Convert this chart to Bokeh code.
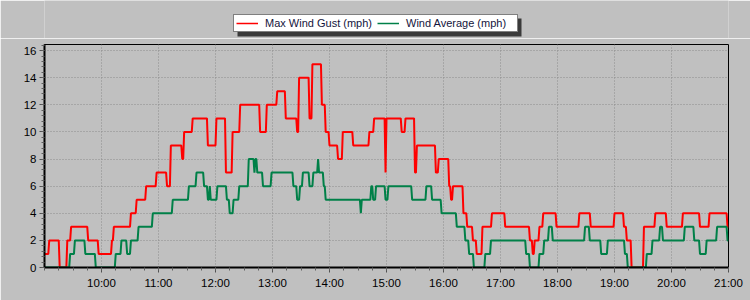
import pandas as pd
from bokeh.plotting import figure
from bokeh.layouts import column
from bokeh.models import (FixedTicker, DatetimeTickFormatter, Legend, LegendItem,
                          Range1d, BoxAnnotation)
from bokeh.embed import file_html
from bokeh.resources import INLINE

DAY = "2024-01-01 "
START, END = "9:00", "21:00"

# Max wind gust (mph): time each new level begins, and the level
gust_times = ["9:00", "9:05", "9:16", "9:24", "9:28", "9:46", "9:57", "10:11", "10:13",
              "10:31", "10:37", "10:47", "10:58", "11:09", "11:13", "11:25", "11:27",
              "11:36", "11:52", "12:01", "12:11", "12:18", "12:26", "12:47", "12:54",
              "13:05", "13:14", "13:26", "13:28", "13:39", "13:42", "13:52", "13:56",
              "14:00", "14:09", "14:14", "14:25", "14:42", "14:47", "14:59", "15:00",
              "15:16", "15:20", "15:30", "15:32", "15:52", "15:55", "16:06", "16:08",
              "16:10", "16:21", "16:25", "16:31", "16:35", "16:41", "16:51", "17:05",
              "17:31", "17:34", "17:36", "17:41", "17:45", "17:59", "18:23", "18:35",
              "19:00", "19:10", "19:13", "19:18", "19:31", "19:43", "19:55", "20:12",
              "20:30", "20:40", "20:59"]
gust_values = [1, 2, 0, 2, 3, 2, 1, 2, 3,
               4, 5, 6, 7, 6, 9, 8, 10,
               11, 9, 11, 7, 10, 12, 10, 12,
               13, 11, 10, 14, 11, 15, 12, 10,
               9, 8, 10, 9, 10, 11, 7, 11,
               10, 11, 7, 9, 7, 8, 6, 5,
               6, 4, 3, 2, 1, 3, 4, 3,
               2, 1, 2, 3, 4, 3, 4, 3,
               4, 3, 2, 0, 3, 4, 3, 4,
               3, 4, 3]

# Wind average (mph)
avg_times = ["9:00", "9:27", "9:32", "9:43", "9:54", "10:15", "10:21", "10:27", "10:31",
             "10:39", "10:54", "11:15", "11:32", "11:40", "11:48", "11:52", "11:54",
             "11:55", "12:02", "12:12", "12:15", "12:19", "12:25", "12:35", "12:41",
             "12:42", "12:44", "12:50", "12:59", "13:22", "13:26", "13:29", "13:32",
             "13:39", "13:43", "13:48", "13:49", "13:54", "13:56", "14:33", "14:34",
             "14:44", "14:46", "14:49", "14:59", "15:02", "15:27", "15:42", "15:48",
             "15:58", "16:14", "16:23", "16:27", "16:32", "16:44", "16:50", "17:27",
             "17:31", "17:41", "17:46", "17:51", "17:55", "18:29", "18:34", "18:46",
             "18:53", "19:11", "19:14", "19:34", "19:40", "19:48", "19:51", "20:14",
             "20:24", "20:30", "20:37", "20:48", "20:59"]
avg_values = [0, 1, 2, 1, 0, 1, 2, 1, 2,
              3, 4, 5, 6, 7, 6, 5, 6,
              5, 6, 5, 4, 5, 6, 8, 7,
              8, 7, 6, 7, 6, 5, 6, 7,
              6, 7, 8, 7, 6, 5, 4, 5,
              6, 5, 6, 5, 6, 5, 6, 5,
              4, 3, 2, 1, 0, 1, 2, 1,
              0, 1, 2, 3, 2, 3, 2, 1,
              2, 1, 0, 1, 2, 3, 2, 3,
              2, 1, 2, 3, 2]

series_names = ["Max Wind Gust (mph)", "Wind Average (mph)"]
series_colors = ["#ff0000", "#008048"]
y_ticks = [0, 2, 4, 6, 8, 10, 12, 14, 16]
hour_labels = ["10:00", "11:00", "12:00", "13:00", "14:00", "15:00", "16:00",
               "17:00", "18:00", "19:00", "20:00", "21:00"]


def ts(s):
    return pd.Timestamp(DAY + s)


def ms(t):
    return t.value // 10**6


def steps(times, values):
    t = [ts(s) for s in times] + [ts(END)]
    one = pd.Timedelta(minutes=1)
    xs, ys = [], []
    for i, v in enumerate(values):
        start, nxt = t[i], t[i + 1]
        xs.append(start)
        ys.append(v)
        end = nxt - one if i < len(values) - 1 else nxt
        if end > start:
            xs.append(end)
            ys.append(v)
    return xs, ys


gx, gy = steps(gust_times, gust_values)
ax, ay = steps(avg_times, avg_values)

BG = "#c0c0c0"
FL, FR = 44, 728          # frame left / right (the column aligns both frames)
TOP_H = 38

# ---- legend strip -------------------------------------------------------
top = figure(width=750, height=TOP_H, output_backend="svg", toolbar_location=None,
             x_range=Range1d(FL, FR), y_range=Range1d(0, TOP_H),
             min_border_left=FL, min_border_right=750 - FR,
             min_border_top=0, min_border_bottom=0)
top.axis.visible = False
top.grid.visible = False
top.outline_line_color = None
top.background_fill_color = BG
top.border_fill_color = BG

shadow = BoxAnnotation(left=237, right=521, top=TOP_H - 18, bottom=TOP_H - 36,
                       fill_color="#3a3a3a", fill_alpha=1, line_alpha=0)
top.add_layout(shadow)

nan = float("nan")
d1 = top.line([nan, nan], [nan, nan], line_color=series_colors[0], line_width=1.5)
d2 = top.line([nan, nan], [nan, nan], line_color=series_colors[1], line_width=1.5)
legend = Legend(items=[LegendItem(label=series_names[0], renderers=[d1]),
                       LegendItem(label=series_names[1], renderers=[d2])],
                orientation="horizontal", location=(233 - FL, TOP_H - 32),
                border_line_color="black", border_line_width=1,
                background_fill_color="white", background_fill_alpha=1,
                label_text_font="Liberation Sans", label_text_font_size="11px",
                label_text_color="#14143c",
                padding=2, spacing=3, margin=0, label_width=109,
                glyph_width=22, glyph_height=10, label_height=10, label_standoff=7)
top.add_layout(legend)

# ---- main chart ---------------------------------------------------------
p = figure(width=750, height=300 - TOP_H, x_axis_type="datetime",
           output_backend="svg", toolbar_location=None,
           x_range=Range1d(ts(START), ts(END)), y_range=Range1d(0, 16.45),
           min_border_left=FL, min_border_right=750 - FR, min_border_top=44 - TOP_H,
           min_border_bottom=33)
p.background_fill_color = BG
p.border_fill_color = BG
p.outline_line_color = "black"
p.outline_line_width = 1

p.line(gx, gy, line_color=series_colors[0], line_width=2)
p.line(ax, ay, line_color=series_colors[1], line_width=2)

major_x = [ms(ts(h)) for h in hour_labels]
minor_x = [ms(ts(START) + pd.Timedelta(minutes=15 * k)) for k in range(0, 49)]
p.xaxis.ticker = FixedTicker(ticks=major_x, minor_ticks=minor_x)
p.xaxis.formatter = DatetimeTickFormatter(hours="%H:%M", hourmin="%H:%M", minutes="%H:%M",
                                          minsec="%H:%M", days="%H:%M", seconds="%H:%M")
p.yaxis.ticker = FixedTicker(ticks=y_ticks, minor_ticks=[round(0.4 * k, 1) for k in range(0, 42)])

for ax_ in (p.xaxis[0], p.yaxis[0]):
    ax_.axis_line_color = "black"
    ax_.axis_line_width = 2
    ax_.major_tick_line_color = "#505050"
    ax_.minor_tick_line_color = "#606060"
    ax_.major_tick_in = 0
    ax_.major_tick_out = 5
    ax_.minor_tick_in = 0
    ax_.minor_tick_out = 3
    ax_.major_label_text_font = "Liberation Sans"
    ax_.major_label_text_font_size = "11.5px"
    ax_.major_label_text_color = "black"
p.yaxis.major_label_standoff = 3
p.xaxis.major_label_standoff = 4

for g in (p.xgrid[0], p.ygrid[0]):
    g.grid_line_color = "#8c8c8c"
    g.grid_line_dash = "1 2"
    g.grid_line_width = 1

layout = column(top, p, spacing=0)
open("out.html", "w").write(file_html(layout, INLINE))
